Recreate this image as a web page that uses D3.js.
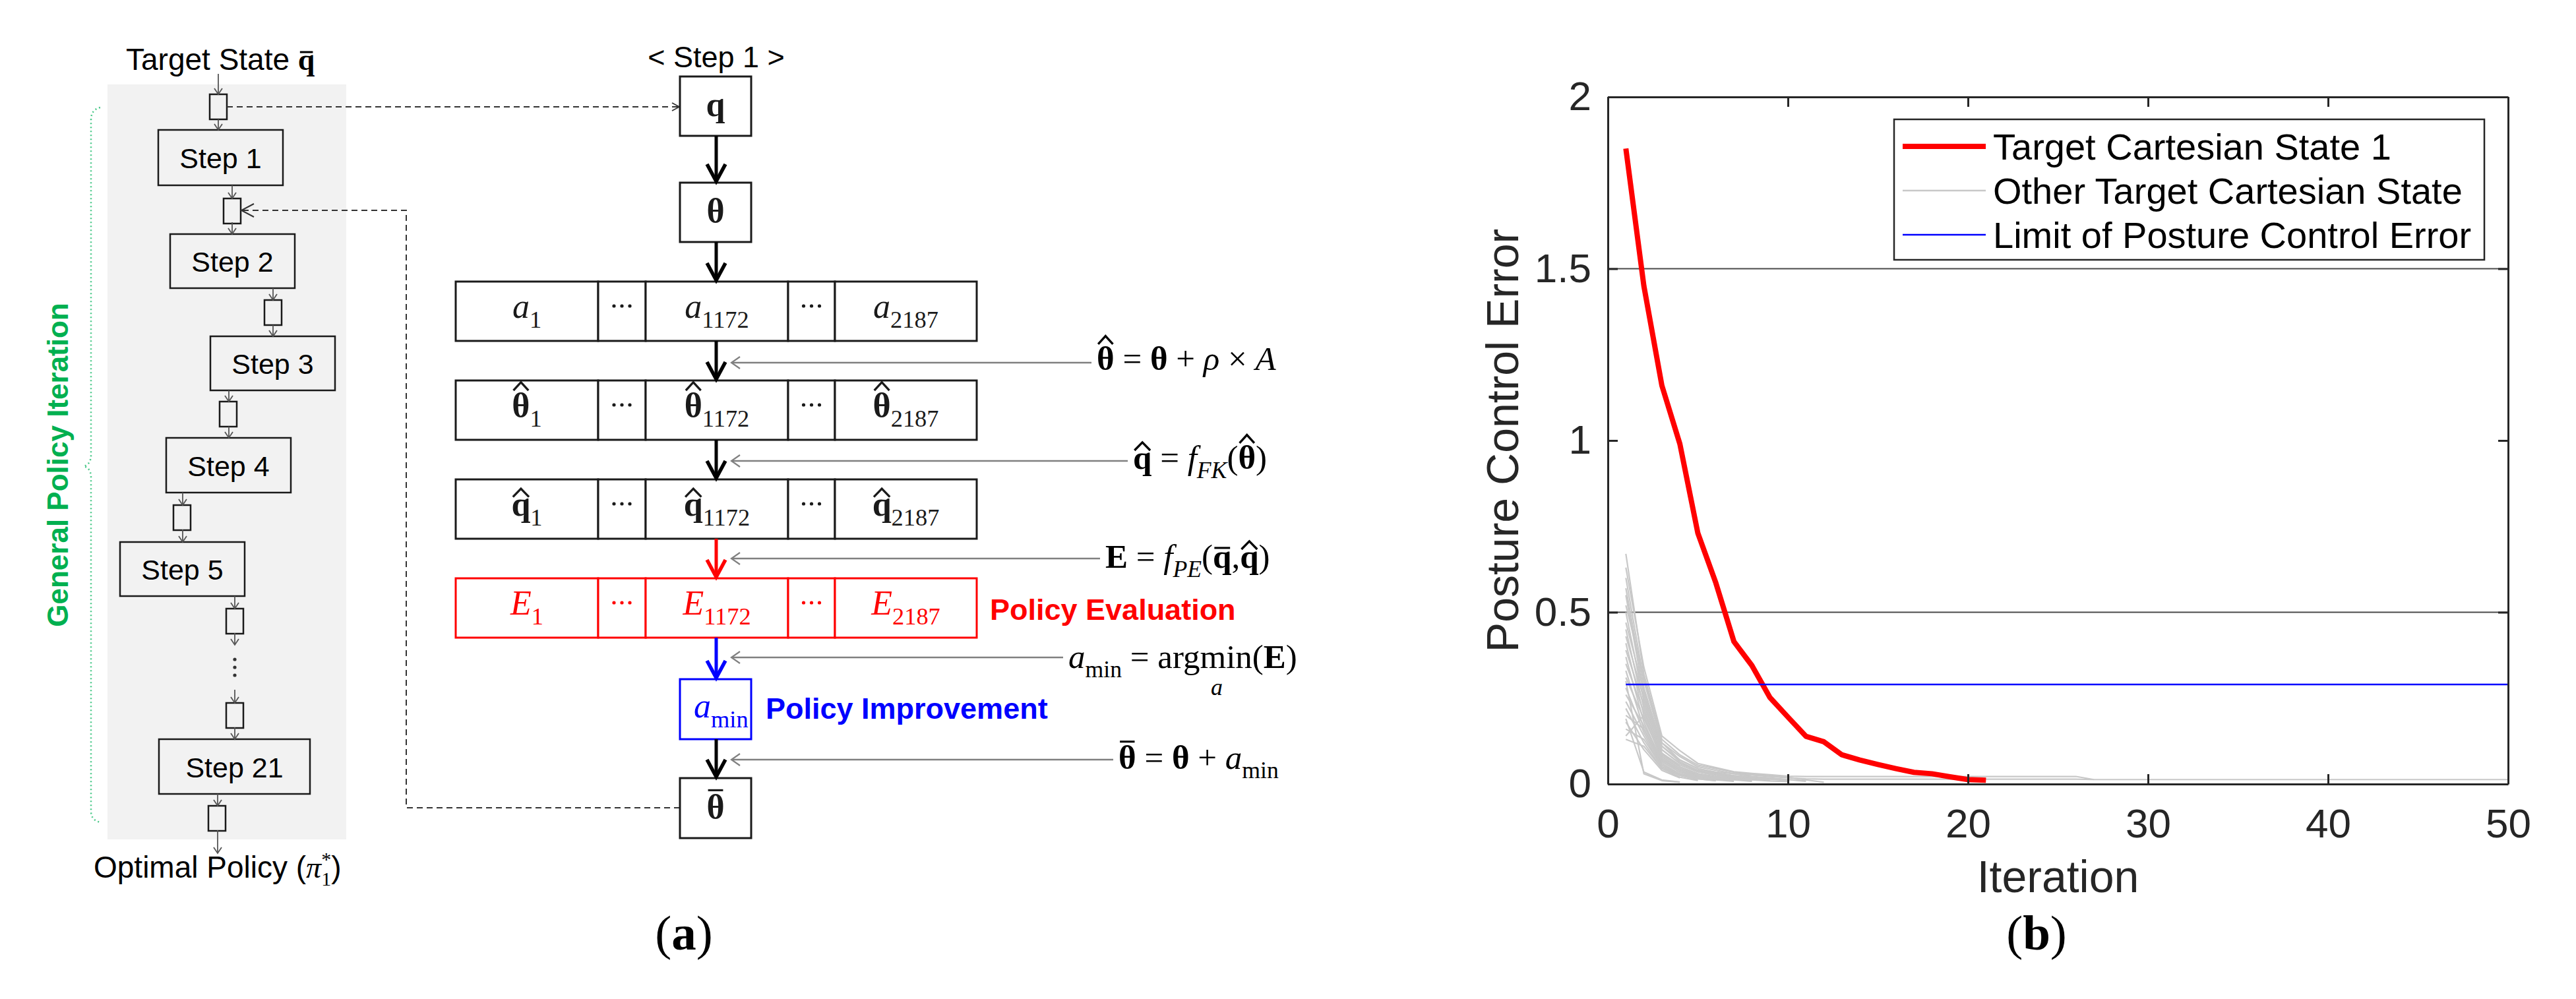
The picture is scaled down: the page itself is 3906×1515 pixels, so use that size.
<!DOCTYPE html>
<html><head><meta charset="utf-8">
<script src="https://cdn.jsdelivr.net/npm/d3@7/dist/d3.min.js"></script>
<style>body{margin:0;background:#fff} svg{display:block}</style>
</head><body>
<svg id="fig" width="3906" height="1515"></svg>
<script>
// ================= DATA =================
const iterationTicks = [0, 10, 20, 30, 40, 50];
const errorTicks = [0, 0.5, 1, 1.5, 2];
const errorTickLabels = ["0", "0.5", "1", "1.5", "2"];
const gridValues = [0.5, 1.5];
const legendLabels = ["Target Cartesian State 1", "Other Target Cartesian State", "Limit of Posture Control Error"];
const limitError = 0.29;
const limitIterations = [1, 50];
// error per iteration (iteration 1, 2, 3, ...)
const targetState1 = [1.85, 1.45, 1.16, 0.99, 0.73, 0.585, 0.415, 0.345, 0.252, 0.195, 0.139, 0.123, 0.085, 0.07, 0.057, 0.045, 0.034, 0.03, 0.021, 0.013, 0.011];
const otherStates = [
  [0.67, 0.32, 0.13, 0.085, 0.055, 0.045, 0.034, 0.028, 0.024, 0.02, 0.012, 0.005],
  [0.63, 0.34, 0.14, 0.097, 0.06, 0.048, 0.036, 0.031, 0.027, 0.023, 0.022, 0.022, 0.022, 0.022, 0.022, 0.022, 0.022, 0.022, 0.022, 0.022, 0.022, 0.022, 0.022, 0.022, 0.022, 0.022, 0.013],
  [0.60, 0.30, 0.12, 0.07, 0.045, 0.035, 0.03, 0.026, 0.022, 0.018, 0.015, 0.014, 0.014, 0.014, 0.014, 0.014, 0.014, 0.014, 0.014, 0.014, 0.014, 0.014, 0.014, 0.014, 0.014, 0.014, 0.013, 0.013, 0.013, 0.013, 0.013, 0.013, 0.013, 0.013, 0.013, 0.013, 0.013, 0.013, 0.013, 0.013, 0.013, 0.013, 0.013, 0.013, 0.013, 0.013, 0.013, 0.013, 0.013, 0.013],
  [0.57, 0.28, 0.11, 0.065, 0.04, 0.03, 0.022, 0.018, 0.014, 0.01],
  [0.55, 0.26, 0.10, 0.06, 0.038, 0.028, 0.02, 0.015, 0.01],
  [0.52, 0.31, 0.12, 0.08, 0.05, 0.04, 0.03, 0.022, 0.018, 0.013, 0.008],
  [0.50, 0.24, 0.09, 0.05, 0.03, 0.02, 0.015, 0.01],
  [0.47, 0.27, 0.11, 0.07, 0.045, 0.033, 0.025, 0.02, 0.015, 0.012],
  [0.45, 0.22, 0.08, 0.045, 0.025, 0.018, 0.012, 0.008],
  [0.43, 0.25, 0.10, 0.06, 0.04, 0.03, 0.024, 0.019, 0.016, 0.013, 0.01],
  [0.41, 0.20, 0.07, 0.04, 0.022, 0.015, 0.01],
  [0.39, 0.23, 0.09, 0.055, 0.035, 0.025, 0.02, 0.015, 0.012],
  [0.37, 0.18, 0.065, 0.035, 0.02, 0.012, 0.008],
  [0.35, 0.21, 0.085, 0.05, 0.03, 0.022, 0.017, 0.012, 0.009, 0.007],
  [0.33, 0.16, 0.06, 0.03, 0.015, 0.01],
  [0.31, 0.19, 0.08, 0.045, 0.028, 0.02, 0.015, 0.011],
  [0.30, 0.03, 0.01, 0.005],
  [0.28, 0.15, 0.055, 0.028, 0.015],
  [0.26, 0.17, 0.07, 0.04, 0.025, 0.018, 0.013],
  [0.24, 0.14, 0.05, 0.025, 0.012],
  [0.22, 0.12, 0.045, 0.02, 0.01],
  [0.20, 0.16, 0.065, 0.035, 0.02, 0.014, 0.01],
  [0.19, 0.035, 0.012, 0.006],
  [0.18, 0.10, 0.04, 0.018],
  [0.16, 0.13, 0.05, 0.03, 0.018, 0.012],
  [0.14, 0.20, 0.075, 0.04, 0.022],
  [0.13, 0.11, 0.045, 0.025, 0.015, 0.01]
];
const stepLabels = ["Step 1", "Step 2", "Step 3", "Step 4", "Step 5", "Step 21"];
const cellIndices = ["1", "", "1172", "", "2187"];

// ================= SETUP =================
const SANS = "'Liberation Sans', Arial, Helvetica, sans-serif";
const SERIF = "'Liberation Serif', 'DejaVu Serif', 'Times New Roman', serif";
const svg = d3.select("#fig");
svg.append("rect").attr("width", 3906).attr("height", 1515).attr("fill", "#fff");

// parts: [string, flags, dx]; flags: i italic, b bold, _ sub, ^ sup, h hat, m macron bar
function mathText(parent, x, y, parts, size, anchor, fill) {
  fill = fill || "#000";
  const t = parent.append("text").attr("x", x).attr("y", y)
    .attr("text-anchor", anchor || "start").attr("font-family", SERIF)
    .attr("font-size", size).attr("fill", fill);
  let shift = 0, idx = 0;
  const accents = [];
  parts.forEach(p => {
    const s = p[0], st = p[1] || "", dx = p[2];
    const sub = st.includes("_"), sup = st.includes("^");
    const target = sub ? size * 0.28 : sup ? -size * 0.42 : 0;
    const ts = t.append("tspan").text(s)
      .attr("font-size", (sub || sup) ? size * 0.7 : size)
      .attr("font-style", st.includes("i") ? "italic" : "normal")
      .attr("font-weight", st.includes("b") ? "bold" : "normal");
    if (target !== shift) { ts.attr("dy", target - shift); shift = target; }
    if (dx !== undefined) ts.attr("dx", dx);
    if (st.includes("h") || st.includes("m")) accents.push({idx, kind: st.includes("h") ? "hat" : "bar", ch: s[0]});
    idx += s.length;
  });
  const node = t.node();
  accents.forEach(a => {
    const ext = node.getExtentOfChar(a.idx);
    const cx = ext.x + ext.width / 2;
    const gh = (a.ch === "q") ? 0.47 : 0.69;
    const top = y - gh * size;
    const hw = ext.width * 0.42;
    if (a.kind === "hat") {
      parent.append("path")
        .attr("d", `M${cx - hw},${top - 4} L${cx},${top - 4 - size * 0.24} L${cx + hw},${top - 4}`)
        .attr("fill", "none").attr("stroke", fill).attr("stroke-width", size * 0.065).attr("stroke-linejoin", "miter");
    } else {
      parent.append("line").attr("x1", cx - hw).attr("x2", cx + hw)
        .attr("y1", top - size * 0.12).attr("y2", top - size * 0.12)
        .attr("stroke", fill).attr("stroke-width", size * 0.06);
    }
  });
  return t;
}

// ================= PANEL (b): chart =================
const x = d3.scaleLinear().domain([0, 50]).range([2438, 3803]);
const y = d3.scaleLinear().domain([0, 2]).range([1189, 147]);
const chart = svg.append("g");

chart.selectAll("line.grid").data(gridValues).join("line")
  .attr("x1", x(0)).attr("x2", x(50)).attr("y1", d => y(d)).attr("y2", d => y(d))
  .attr("stroke", "#4a4a4a").attr("stroke-width", 2);

const line = d3.line().x((d, i) => x(i + 1)).y(d => y(d));
chart.selectAll("path.other").data(otherStates).join("path")
  .attr("d", line).attr("fill", "none").attr("stroke", "#c8c8c8").attr("stroke-width", 2.2)
  .attr("stroke-linejoin", "round");
chart.append("path").datum(targetState1).attr("d", line).attr("fill", "none")
  .attr("stroke", "#ff0000").attr("stroke-width", 8).attr("stroke-linejoin", "round");
chart.append("line").attr("x1", x(limitIterations[0])).attr("x2", x(limitIterations[1]))
  .attr("y1", y(limitError)).attr("y2", y(limitError)).attr("stroke", "#0000ff").attr("stroke-width", 2.5);

function styleAxis(g) {
  g.select(".domain").attr("stroke", "#262626").attr("stroke-width", 3);
  g.selectAll(".tick line").attr("stroke", "#262626").attr("stroke-width", 3);
  g.selectAll(".tick text").attr("font-family", SANS).attr("font-size", 62).attr("fill", "#262626");
}
chart.append("g").attr("transform", `translate(0,${y(0)})`)
  .call(d3.axisBottom(x).tickValues(iterationTicks).tickSizeInner(-15).tickSizeOuter(0).tickPadding(37))
  .call(styleAxis);
chart.append("g").attr("transform", `translate(0,${y(2)})`)
  .call(d3.axisTop(x).tickValues(iterationTicks).tickSizeInner(-15).tickSizeOuter(0).tickFormat(""))
  .call(styleAxis);
chart.append("g").attr("transform", `translate(${x(0)},0)`)
  .call(d3.axisLeft(y).tickValues(errorTicks).tickFormat((d, i) => errorTickLabels[i]).tickSizeInner(-15).tickSizeOuter(0).tickPadding(25))
  .call(styleAxis);
chart.append("g").attr("transform", `translate(${x(50)},0)`)
  .call(d3.axisRight(y).tickValues(errorTicks).tickSizeInner(-15).tickSizeOuter(0).tickFormat(""))
  .call(styleAxis);

chart.append("text").attr("x", (x(0) + x(50)) / 2).attr("y", 1353).attr("text-anchor", "middle")
  .attr("font-family", SANS).attr("font-size", 68).attr("fill", "#262626").text("Iteration");
chart.append("text").attr("transform", `translate(2302,${(y(0) + y(2)) / 2}) rotate(-90)`)
  .attr("text-anchor", "middle").attr("font-family", SANS).attr("font-size", 68).attr("fill", "#262626")
  .text("Posture Control Error");

// legend
const leg = chart.append("g");
leg.append("rect").attr("x", 2872).attr("y", 181).attr("width", 895).attr("height", 213)
  .attr("fill", "#fff").attr("stroke", "#262626").attr("stroke-width", 2.5);
const legStyles = [{c: "#ff0000", w: 8}, {c: "#c8c8c8", w: 2.5}, {c: "#0000ff", w: 2.5}];
const legY = d3.scalePoint().domain(legendLabels).range([222, 356]);
legendLabels.forEach((lab, i) => {
  leg.append("line").attr("x1", 2885).attr("x2", 3011).attr("y1", legY(lab)).attr("y2", legY(lab))
    .attr("stroke", legStyles[i].c).attr("stroke-width", legStyles[i].w);
  leg.append("text").attr("x", 3022).attr("y", legY(lab) + 20).attr("font-family", SANS)
    .attr("font-size", 56).attr("fill", "#000").text(lab);
});

// panel labels
function panelLabel(cx, letter) {
  const t = svg.append("text").attr("x", cx).attr("y", 1440).attr("text-anchor", "middle")
    .attr("font-family", SERIF).attr("font-size", 75).attr("fill", "#000");
  t.append("tspan").text("(");
  t.append("tspan").attr("font-weight", "bold").text(letter);
  t.append("tspan").text(")");
}
panelLabel(1037, "a");
panelLabel(3088, "b");

// ================= PANEL (a): left flow =================
const left = svg.append("g");
left.append("rect").attr("x", 163).attr("y", 128).attr("width", 362).attr("height", 1145).attr("fill", "#f2f2f2");

const stepBoxes = [[240, 197, 429, 281], [258, 355, 447, 437], [319, 510, 508, 592], [252, 664, 441, 747], [182, 822, 371, 904], [241, 1121, 470, 1204]];
stepBoxes.forEach((b, i) => {
  left.append("rect").attr("x", b[0]).attr("y", b[1]).attr("width", b[2] - b[0]).attr("height", b[3] - b[1])
    .attr("fill", "#f2f2f2").attr("stroke", "#1a1a1a").attr("stroke-width", 2.5);
  left.append("text").attr("x", (b[0] + b[2]) / 2).attr("y", (b[1] + b[3]) / 2 + 16).attr("text-anchor", "middle")
    .attr("font-family", SANS).attr("font-size", 43).attr("fill", "#000").text(stepLabels[i]);
});
const squares = [[318, 143], [339, 301], [401, 455], [333, 609], [263, 766], [343, 923], [343, 1066], [316, 1222]];
squares.forEach(s => left.append("rect").attr("x", s[0]).attr("y", s[1]).attr("width", 26).attr("height", 38)
  .attr("fill", "#f2f2f2").attr("stroke", "#1a1a1a").attr("stroke-width", 2.5));

const smallArrows = [[331, 112, 143], [331, 181, 197], [352, 281, 301], [352, 337, 355], [414, 437, 455], [414, 493, 510],
  [347, 592, 609], [347, 647, 664], [277, 747, 766], [277, 803, 822], [356, 904, 923], [356, 960, 978],
  [356, 1046, 1066], [356, 1103, 1121], [330, 1204, 1222], [330, 1259, 1294]];
smallArrows.forEach(a => {
  left.append("line").attr("x1", a[0]).attr("x2", a[0]).attr("y1", a[1]).attr("y2", a[2])
    .attr("stroke", "#555").attr("stroke-width", 1.8);
  left.append("path").attr("d", `M${a[0] - 6},${a[2] - 9} L${a[0]},${a[2]} L${a[0] + 6},${a[2] - 9}`)
    .attr("fill", "none").attr("stroke", "#555").attr("stroke-width", 1.8);
});
[1000, 1012, 1024].forEach(yy => left.append("circle").attr("cx", 356).attr("cy", yy).attr("r", 2.6).attr("fill", "#333"));

// texts
const ts = left.append("text").attr("x", 191).attr("y", 106).attr("font-family", SANS).attr("font-size", 46).attr("fill", "#000");
ts.append("tspan").text("Target State ");
ts.append("tspan").attr("font-family", SERIF).attr("font-weight", "bold").text("q");
{
  const ext = ts.node().getExtentOfChar(13);
  left.append("line").attr("x1", ext.x + 3).attr("x2", ext.x + ext.width - 3).attr("y1", 106 - 27).attr("y2", 106 - 27)
    .attr("stroke", "#000").attr("stroke-width", 3);
}
const op = left.append("text").attr("x", 142).attr("y", 1331).attr("font-family", SANS).attr("font-size", 46).attr("fill", "#000");
op.append("tspan").text("Optimal Policy (");
op.append("tspan").attr("font-family", SERIF).attr("font-style", "italic").text("\u03c0");
op.append("tspan").attr("font-family", SERIF).attr("font-size", 30).attr("dy", 12).text("1");
op.append("tspan").attr("font-family", SERIF).attr("font-size", 30).attr("dy", -30).attr("dx", -15).text("*");
op.append("tspan").attr("dy", 18).text(")");

// brace
left.append("path").attr("d", "M152,163 Q138,166 138,182 L138,690 Q138,704 127,707 Q138,710 138,724 L138,1230 Q138,1244 152,1247")
  .attr("fill", "none").attr("stroke", "#4cc98a").attr("stroke-width", 2.5).attr("stroke-dasharray", "2,4");
left.append("text").attr("transform", "translate(103,705) rotate(-90)").attr("text-anchor", "middle")
  .attr("font-family", SANS).attr("font-weight", "bold").attr("font-size", 44).attr("fill", "#00b050")
  .text("General Policy Iteration");

// dashed connectors
svg.append("path").attr("d", "M344,162 H1029").attr("fill", "none").attr("stroke", "#333").attr("stroke-width", 2).attr("stroke-dasharray", "9,6");
svg.append("path").attr("d", "M1019,156 L1030,162 L1019,168").attr("fill", "none").attr("stroke", "#333").attr("stroke-width", 1.8);
svg.append("path").attr("d", "M1031,1225 H616 V319 H367").attr("fill", "none").attr("stroke", "#333").attr("stroke-width", 2).attr("stroke-dasharray", "9,6");
svg.append("path").attr("d", "M385,309 L366,319 L385,329").attr("fill", "none").attr("stroke", "#333").attr("stroke-width", 2);

// ================= PANEL (a): step 1 detail =================
const mid = svg.append("g");
const AX = 1086;
mid.append("text").attr("x", AX).attr("y", 102).attr("text-anchor", "middle").attr("font-family", SANS)
  .attr("font-size", 45).attr("fill", "#000").text("< Step 1 >");

function smallBox(y1, y2, color, sym) {
  mid.append("rect").attr("x", 1031).attr("y", y1).attr("width", 108).attr("height", y2 - y1)
    .attr("fill", "#fff").attr("stroke", color).attr("stroke-width", 3);
  mathText(mid, 1085, (y1 + y2) / 2 + 15, sym, 52, "middle", color);
}
smallBox(116, 206, "#1a1a1a", [["q", "b"]]);
smallBox(277, 367, "#1a1a1a", [["\u03b8", "b"]]);
smallBox(1180, 1271, "#1a1a1a", [["\u03b8", "bm"]]);
mid.append("rect").attr("x", 1031).attr("y", 1030).attr("width", 108).attr("height", 91)
  .attr("fill", "#fff").attr("stroke", "#0000ff").attr("stroke-width", 3);
mathText(mid, 1052, 1088, [["a", "i"], ["min", "_"]], 52, "start", "#0000ff");

const cellEdges = [691, 907, 979, 1195, 1266, 1481];
const rows = [
  {top: 427, color: "#1a1a1a", sym: ["a", "i"]},
  {top: 577, color: "#1a1a1a", sym: ["\u03b8", "bh"]},
  {top: 727, color: "#1a1a1a", sym: ["q", "bh"]},
  {top: 877, color: "#ff0000", sym: ["E", "i"]}
];
rows.forEach(r => {
  for (let i = 0; i < 5; i++) {
    mid.append("rect").attr("x", cellEdges[i]).attr("y", r.top).attr("width", cellEdges[i + 1] - cellEdges[i]).attr("height", 90)
      .attr("fill", "#fff").attr("stroke", r.color).attr("stroke-width", 3);
    const cx = (cellEdges[i] + cellEdges[i + 1]) / 2;
    if (cellIndices[i]) {
      mathText(mid, cx, r.top + 55, [r.sym, [cellIndices[i], "_"]], 52, "middle", r.color);
    } else {
      [-12, 0, 12].forEach(dx => mid.append("circle").attr("cx", cx + dx).attr("cy", r.top + 37).attr("r", 2.6).attr("fill", r.color));
    }
  }
});

const bigArrows = [[206, 277, "#000"], [367, 427, "#000"], [517, 577, "#000"], [667, 727, "#000"], [817, 877, "#ff0000"], [967, 1030, "#0000ff"], [1121, 1180, "#000"]];
bigArrows.forEach(a => {
  mid.append("line").attr("x1", AX).attr("x2", AX).attr("y1", a[0]).attr("y2", a[1] - 3).attr("stroke", a[2]).attr("stroke-width", 5);
  mid.append("path").attr("d", `M${AX - 14},${a[1] - 28} L${AX},${a[1] - 2} L${AX + 14},${a[1] - 28}`)
    .attr("fill", "none").attr("stroke", a[2]).attr("stroke-width", 5.5).attr("stroke-linejoin", "miter");
});

// equations with gray pointers
const eqs = [
  {ay: 550, tx: 1663, ty: 561, parts: [["\u03b8", "bh"], [" = ", ""], ["\u03b8", "b"], [" + ", ""], ["\u03c1", "i"], [" \u00d7 ", ""], ["A", "i"]]},
  {ay: 699, tx: 1718, ty: 711, parts: [["q", "bh"], [" = ", ""], ["f", "i"], ["FK", "_i"], ["(", ""], ["\u03b8", "bh"], [")", ""]]},
  {ay: 847, tx: 1676, ty: 861, parts: [["E", "b"], [" = ", ""], ["f", "i"], ["PE", "_i"], ["(", ""], ["q", "bm"], [",", ""], ["q", "bh"], [")", ""]]},
  {ay: 997, tx: 1620, ty: 1013, parts: [["a", "i"], ["min", "_"], [" = argmin(", ""], ["E", "b"], [")", ""]]},
  {ay: 1152, tx: 1696, ty: 1166, parts: [["\u03b8", "bm"], [" = ", ""], ["\u03b8", "b"], [" + ", ""], ["a", "i"], ["min", "_"]]}
];
eqs.forEach(e => {
  mathText(mid, e.tx, e.ty, e.parts, 51, "start", "#000");
  mid.append("line").attr("x1", e.tx - 8).attr("x2", 1110).attr("y1", e.ay).attr("y2", e.ay).attr("stroke", "#808080").attr("stroke-width", 2.5);
  mid.append("path").attr("d", `M1122,${e.ay - 9} L1109,${e.ay} L1122,${e.ay + 9}`).attr("fill", "none").attr("stroke", "#808080").attr("stroke-width", 2.2);
});
mathText(mid, 1845, 1054, [["a", "i"]], 36, "middle", "#000");

mid.append("text").attr("x", 1501).attr("y", 940).attr("font-family", SANS).attr("font-weight", "bold")
  .attr("font-size", 45).attr("fill", "#ff0000").text("Policy Evaluation");
mid.append("text").attr("x", 1161).attr("y", 1090).attr("font-family", SANS).attr("font-weight", "bold")
  .attr("font-size", 45).attr("fill", "#0000ff").text("Policy Improvement");
</script>
</body></html>
